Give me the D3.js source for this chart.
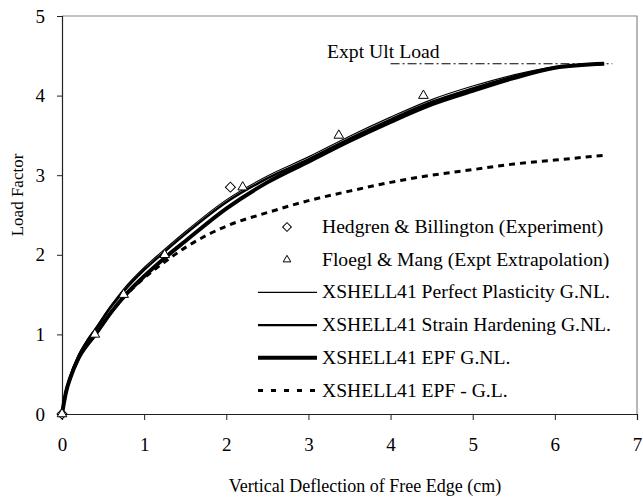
<!DOCTYPE html>
<html><head><meta charset="utf-8">
<script src="https://cdn.jsdelivr.net/npm/d3@7"></script>
<style>body{margin:0;background:#fff}svg{display:block}text{font-family:"Liberation Serif","Times New Roman",serif;fill:#000}</style>
</head><body>
<script>
// Data
const xTicks = [0,1,2,3,4,5,6,7];
const yTicks = [0,1,2,3,4,5];
const curveX = [0,0.05,0.1,0.2,0.3,0.4,0.6,0.75,1.0,1.25,1.5,2.0,2.5,3.0,3.5,4.0,4.5,5.0,5.5,6.0,6.6];
const perfectPlasticity = [0,0.3,0.48,0.74,0.92,1.07,1.37,1.57,1.84,2.07,2.29,2.69,2.99,3.23,3.49,3.73,3.95,4.12,4.26,4.36,4.40];
const strainHardening   = [0,0.29,0.47,0.73,0.91,1.05,1.35,1.54,1.81,2.04,2.26,2.66,2.96,3.20,3.46,3.70,3.92,4.09,4.24,4.35,4.40];
const epfGNL            = [0,0.28,0.45,0.70,0.86,0.99,1.28,1.47,1.73,1.96,2.17,2.58,2.91,3.17,3.43,3.67,3.89,4.06,4.22,4.35,4.40];
const epfGL             = [0,0.28,0.45,0.70,0.86,0.99,1.28,1.46,1.71,1.91,2.09,2.36,2.53,2.68,2.80,2.91,3.00,3.07,3.14,3.19,3.25];
const hedgrenX = [0,2.05];
const hedgrenY = [0,2.85];
const floeglX = [0,0.4,0.75,1.25,2.2,3.37,4.4];
const floeglY = [0,1.0,1.5,2.0,2.85,3.5,4.0];
const ultLoad = 4.4, ultFrom = 4.0, ultTo = 6.7;

const W=643,H=499;
const L=62,R=637,T=16,B=414;
const svg=d3.select("body").append("svg").attr("width",W).attr("height",H);
const x=d3.scaleLinear().domain([0,7]).range([L,R]);
const y=d3.scaleLinear().domain([0,5]).range([B,T]);

// frame top/right
svg.append("path").attr("d",`M${L},${T}H${R}V${B}`).attr("fill","none").attr("stroke","#888").attr("stroke-width",1.2);

const xa=svg.append("g").attr("transform",`translate(0,${B})`).call(d3.axisBottom(x).tickValues(xTicks).tickSize(6).tickPadding(18).tickFormat(d3.format("d")));
const ya=svg.append("g").attr("transform",`translate(${L},0)`).call(d3.axisLeft(y).tickValues(yTicks).tickSize(5).tickPadding(12).tickFormat(d3.format("d")));
[xa,ya].forEach(a=>{a.select(".domain").attr("stroke","#222").attr("stroke-width",1.2);
 a.selectAll(".tick line").attr("stroke","#222");
 a.selectAll("text").style("font-family","Liberation Serif").style("font-size","19px").attr("fill","#000");});

svg.append("text").attr("x",365).attr("y",492).attr("text-anchor","middle").style("font-size","18px").text("Vertical Deflection of Free Edge (cm)");
svg.append("text").attr("transform",`translate(23,195) rotate(-90)`).attr("text-anchor","middle").style("font-size","17px").text("Load Factor");

const line=d3.line().x(d=>x(d[0])).y(d=>y(d[1])).curve(d3.curveMonotoneX);
const pts=ys=>curveX.map((v,i)=>[v,ys[i]]);
const series=[
 {name:"XSHELL41 Perfect Plasticity G.NL.",data:perfectPlasticity,w:1.2,dash:null},
 {name:"XSHELL41 Strain Hardening G.NL.",data:strainHardening,w:2.4,dash:null},
 {name:"XSHELL41 EPF G.NL.",data:epfGNL,w:4,dash:null},
 {name:"XSHELL41 EPF - G.L.",data:epfGL,w:3,dash:"6,5"}
];
[series[3],series[2],series[1],series[0]].forEach(s=>{
 svg.append("path").attr("d",line(pts(s.data))).attr("fill","none").attr("stroke","#000").attr("stroke-width",s.w).attr("stroke-dasharray",s.dash);
});

// ult load
svg.append("line").attr("x1",x(ultFrom)).attr("x2",x(ultTo)).attr("y1",y(ultLoad)).attr("y2",y(ultLoad)).attr("stroke","#000").attr("stroke-width",1).attr("stroke-dasharray","9,3,2,3");
svg.append("text").attr("x",327).attr("y",y(ultLoad)-6).style("font-size","19.7px").text("Expt Ult Load");

const tri=d3.symbol().type(d3.symbolTriangle).size(40);
const dia=d3.symbol().type(d3.symbolSquare).size(50);
hedgrenX.forEach((v,i)=>svg.append("path").attr("d",dia()).attr("transform",`translate(${x(v)},${y(hedgrenY[i])}) rotate(45)`).attr("fill","#fff").attr("stroke","#000").attr("stroke-width",1));
floeglX.forEach((v,i)=>svg.append("path").attr("d",tri()).attr("transform",`translate(${x(v)},${y(floeglY[i])})`).attr("fill","#fff").attr("stroke","#000").attr("stroke-width",1));

// legend
const lx=258, lx2=317, tx=322, ly0=227, dy=32.7, fs="19.6px";
const leg=svg.append("g");
leg.append("path").attr("d",d3.symbol().type(d3.symbolSquare).size(38)()).attr("transform",`translate(287,${ly0}) rotate(45)`).attr("fill","#fff").attr("stroke","#000");
leg.append("text").attr("x",tx).attr("y",ly0+6).style("font-size",fs).text("Hedgren & Billington (Experiment)");
leg.append("path").attr("d",d3.symbol().type(d3.symbolTriangle).size(25)()).attr("transform",`translate(287,${ly0+dy})`).attr("fill","#fff").attr("stroke","#000");
leg.append("text").attr("x",tx).attr("y",ly0+dy+6).style("font-size",fs).text("Floegl & Mang (Expt Extrapolation)");
series.forEach((s,i)=>{
 const yy=ly0+dy*(i+2);
 leg.append("line").attr("x1",lx).attr("x2",lx2).attr("y1",yy).attr("y2",yy).attr("stroke","#000").attr("stroke-width",s.w).attr("stroke-dasharray",s.dash?"5,8":null);
 leg.append("text").attr("x",tx).attr("y",yy+6).style("font-size",fs).text(s.name);
});
</script>
</body></html>
